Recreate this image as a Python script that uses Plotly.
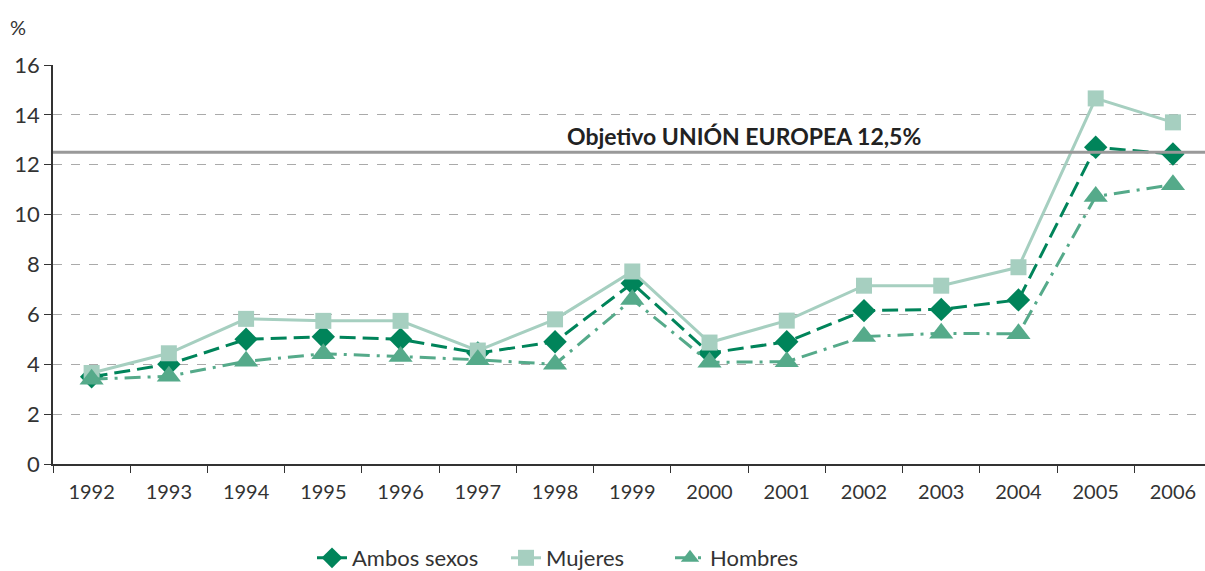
import plotly.graph_objects as go

years = ["1992", "1993", "1994", "1995", "1996", "1997", "1998", "1999",
         "2000", "2001", "2002", "2003", "2004", "2005", "2006"]
ambos = [3.5, 4.0, 5.0, 5.1, 5.0, 4.45, 4.9, 7.25, 4.45, 4.9, 6.15, 6.2, 6.58, 12.7, 12.43]
mujeres = [3.65, 4.44, 5.82, 5.74, 5.74, 4.55, 5.8, 7.72, 4.87, 5.75, 7.15, 7.15, 7.89, 14.66, 13.7]
hombres = [3.4, 3.52, 4.12, 4.42, 4.31, 4.18, 4.0, 6.6, 4.08, 4.1, 5.11, 5.24, 5.22, 10.73, 11.2]
objetivo = 12.5

FONT = "Lato"
c_ambos = "#00845A"
c_muj = "#A6CFC0"
c_hom = "#55AA8A"

fig = go.Figure()
fig.add_trace(go.Scatter(x=years, y=ambos, name="Ambos sexos", mode="lines+markers",
                         line=dict(color=c_ambos, width=3, dash="16px,7px"),
                         marker=dict(symbol="diamond", size=18, color=c_ambos),
                         legend="legend"))
fig.add_trace(go.Scatter(x=years, y=mujeres, name="Mujeres", mode="lines+markers",
                         line=dict(color=c_muj, width=3),
                         marker=dict(symbol="square", size=16, color=c_muj),
                         legend="legend2"))
fig.add_trace(go.Scatter(x=years, y=hombres, name="Hombres", mode="lines+markers",
                         line=dict(color=c_hom, width=3, dash="16px,7px,3px,7px"),
                         marker=dict(symbol="triangle-up", size=21, color=c_hom),
                         legend="legend3"))

fig.add_shape(type="line", xref="paper", x0=0, x1=1, yref="y", y0=objetivo, y1=objetivo,
              line=dict(color="#999999", width=3))
fig.add_annotation(x=(744 - 53) / 1152, xref="paper", y=objetivo, yref="y",
                   xanchor="center", yanchor="bottom", yshift=0,
                   text="<b>Objetivo UNIÓN EUROPEA 12,5%</b>", showarrow=False,
                   font=dict(family=FONT, size=23, color="#222222"))
fig.add_annotation(x=(18 - 53) / 1152, xref="paper", y=(464 - 27) / 399, yref="paper",
                   xanchor="center", yanchor="middle", showarrow=False, text="%",
                   font=dict(family=FONT, size=20, color="#333333"))

leg_y = (464 - 558) / 399
leg_font = dict(family=FONT, size=22, color="#333333")


def leg(px):
    return dict(orientation="h", x=(px - 53) / 1152, xanchor="left", y=leg_y,
                yanchor="middle", font=leg_font, bgcolor="rgba(0,0,0,0)")


fig.update_layout(
    width=1205, height=571,
    margin=dict(l=53, r=0, t=65, b=107, autoexpand=False),
    paper_bgcolor="white", plot_bgcolor="white",
    font=dict(family=FONT, size=20, color="#333333"),
    showlegend=True,
    legend=leg(312),
    legend2=leg(506),
    legend3=leg(670),
    xaxis=dict(type="category", range=[-0.5, 14.415], showgrid=False, automargin=False,
               showline=True, linecolor="#333333", linewidth=1.5,
               ticks="outside", tickson="boundaries", ticklen=7, tickcolor="#333333",
               ticklabelstandoff=9,
               tickfont=dict(family=FONT, size=20, color="#333333")),
    yaxis=dict(range=[0, 16], dtick=2, showgrid=True, gridcolor="#AAAAAA",
               griddash="dash", gridwidth=1, zeroline=False, automargin=False,
               showline=True, linecolor="#333333", linewidth=1.5,
               ticks="outside", ticklen=7, tickcolor="#333333",
               tickfont=dict(family=FONT, size=22, color="#333333")),
)

fig.write_html("out.html", config={"displayModeBar": False},
               post_script="document.body.style.margin='0';document.body.style.overflow='hidden';")
